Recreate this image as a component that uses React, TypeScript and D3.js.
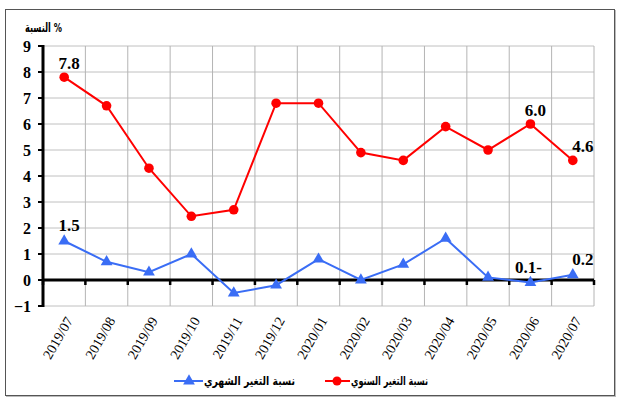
import React from "react";
import * as d3 from "d3";

const categories = ["2019/07","2019/08","2019/09","2019/10","2019/11","2019/12","2020/01","2020/02","2020/03","2020/04","2020/05","2020/06","2020/07"];
const annual = [7.8, 6.7, 4.3, 2.45, 2.7, 6.8, 6.8, 4.9, 4.6, 5.9, 5.0, 6.0, 4.6];
const monthly = [1.5, 0.7, 0.3, 1.0, -0.5, -0.2, 0.8, 0.0, 0.6, 1.6, 0.1, -0.1, 0.2];
const yTicks = [-1, 0, 1, 2, 3, 4, 5, 6, 7, 8, 9];
const yTickLabels = ["\u22121", "0", "1", "2", "3", "4", "5", "6", "7", "8", "9"];
const annualLabels = [{ i: 0, text: "7.8" }, { i: 11, text: "6.0" }, { i: 12, text: "4.6" }];
const monthlyLabels = [{ i: 0, text: "1.5" }, { i: 11, text: "0.1-" }, { i: 12, text: "0.2" }];
const seriesNames = ["نسبة التغير الشهري", "نسبة التغير السنوي"];
const yTitle = "النسبة %";

export default function App() {
  const left = 43, right = 594, top = 46, bottom = 306;
  const x = d3.scaleBand<string>().domain(categories).range([left, right]);
  const y = d3.scaleLinear().domain([-1, 9]).range([bottom, top]);
  const cx = (i: number) => (x(categories[i]) as number) + x.bandwidth() / 2;
  const line = d3.line<number>().x((_, i) => cx(i)).y((d) => y(d));
  const tri = d3.symbol().type(d3.symbolTriangle).size(60)();
  const serif = "'Times New Roman', 'Liberation Serif', 'DejaVu Serif', serif";
  const arab = "'DejaVu Sans', sans-serif";
  const boundaries = categories.map((c) => x(c) as number).concat([right]);
  const blue = "#3a6df5";
  const red = "#ff0000";

  const labelDx = (i: number) => (i === 12 ? 10 : 5);

  return (
    <svg width={621} height={403} style={{ position: "absolute", left: 0, top: 0 }}>
      <rect x={0} y={0} width={621} height={403} fill="#fff" />
      <rect x={5.5} y={9.5} width={609} height={386} fill="none" stroke="#555" strokeWidth={1} />
      <line x1={6} y1={396.5} x2={615} y2={396.5} stroke="#bbb" strokeWidth={1} />
      <line x1={615.5} y1={10} x2={615.5} y2={397} stroke="#bbb" strokeWidth={1} />
      {/* grid */}
      {yTicks.map((t) => (
        <line key={"h" + t} x1={left} x2={right} y1={y(t)} y2={y(t)} stroke="#c0c0c0" strokeWidth={1} />
      ))}
      {boundaries.map((b, i) => (
        <line key={"v" + i} x1={b} x2={b} y1={top} y2={bottom} stroke="#b4b4b4" strokeWidth={1} />
      ))}
      {/* y axis */}
      <line x1={left} x2={left} y1={top - 1} y2={bottom + 1} stroke="#000" strokeWidth={3} />
      {yTicks.map((t, i) => (
        <g key={"yt" + t}>
          <line x1={left - 5} x2={left} y1={y(t)} y2={y(t)} stroke="#000" strokeWidth={2} />
          <text x={31} y={y(t)} dy="0.35em" textAnchor="end" fontFamily={serif} fontWeight="bold" fontSize={16}>
            {yTickLabels[i]}
          </text>
        </g>
      ))}
      <text x={25} y={32} textAnchor="start" fontFamily={arab} fontWeight="bold" fontSize={13} textLength={37} lengthAdjust="spacingAndGlyphs">
        {yTitle}
      </text>
      {/* x axis at 0 */}
      <line x1={left} x2={right} y1={y(0)} y2={y(0)} stroke="#000" strokeWidth={3} />
      {boundaries.map((b, i) => (
        <line key={"xt" + i} x1={b} x2={b} y1={y(0)} y2={y(0) + 5} stroke="#000" strokeWidth={2.5} />
      ))}
      {categories.map((c, i) => (
        <text
          key={"xl" + c}
          transform={`translate(${cx(i) + 5},${bottom + 12}) rotate(-60)`}
          textAnchor="end"
          dy="0.35em"
          fontFamily={serif}
          fontSize={14}
        >
          {c}
        </text>
      ))}
      {/* series */}
      <path d={line(annual) || ""} fill="none" stroke={red} strokeWidth={2} />
      {annual.map((v, i) => (
        <circle key={"a" + i} cx={cx(i)} cy={y(v)} r={4.8} fill={red} />
      ))}
      <path d={line(monthly) || ""} fill="none" stroke={blue} strokeWidth={2} />
      {monthly.map((v, i) => (
        <path key={"m" + i} d={tri || ""} transform={`translate(${cx(i)},${y(v)})`} fill={blue} />
      ))}
      {/* data labels */}
      {annualLabels.map((l) => (
        <text key={"al" + l.i} x={cx(l.i) + labelDx(l.i)} y={y(annual[l.i]) - 8} textAnchor="middle" fontFamily={serif} fontWeight="bold" fontSize={17}>
          {l.text}
        </text>
      ))}
      {monthlyLabels.map((l) => (
        <text key={"ml" + l.i} x={cx(l.i) + (l.i === 11 ? -2 : labelDx(l.i))} y={y(monthly[l.i]) - 10} textAnchor="middle" fontFamily={serif} fontWeight="bold" fontSize={17}>
          {l.text}
        </text>
      ))}
      {/* legend */}
      <g transform="translate(0,381)">
        <line x1={174} x2={203} y1={0} y2={0} stroke={blue} strokeWidth={2} />
        <path d={tri || ""} transform="translate(189,0)" fill={blue} />
        <text x={204} y={0} dy="0.35em" textAnchor="start" fontFamily={arab} fontWeight="bold" fontSize={12} textLength={91} lengthAdjust="spacingAndGlyphs">
          {seriesNames[0]}
        </text>
        <line x1={325} x2={350} y1={0} y2={0} stroke={red} strokeWidth={2} />
        <circle cx={337} cy={0} r={4.5} fill={red} />
        <text x={351} y={0} dy="0.35em" textAnchor="start" fontFamily={arab} fontWeight="bold" fontSize={12} textLength={77} lengthAdjust="spacingAndGlyphs">
          {seriesNames[1]}
        </text>
      </g>
    </svg>
  );
}
